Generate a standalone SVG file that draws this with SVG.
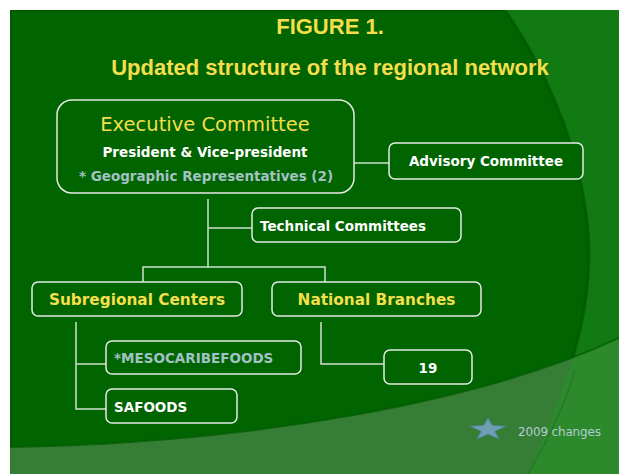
<svg xmlns="http://www.w3.org/2000/svg" width="619" height="474" viewBox="0 0 619 474">
  <defs>
    <path id="darkShape" d="M10,10 H505 C540,60 580,140 588,230 C594,300 575,370 528,474 H10 Z"/>
    <path id="lowerBand" d="M10,447 C250,443 480,403 619,338 V474 H10 Z"/>
    <clipPath id="clipDark"><use href="#darkShape"/></clipPath>
    <clipPath id="clipPage"><rect x="10" y="10" width="609" height="464"/></clipPath>
    <style>
      .box { fill: #006400; stroke: #e4ece4; stroke-width: 1.5; }
      .wire { fill: none; stroke: #cfe0cf; stroke-width: 1.5; }
      .title { font-family: "Liberation Sans", Arial, sans-serif; font-weight: bold; fill: #f4de4c; text-anchor: middle; }
      .lbl { font-family: "DejaVu Sans", Verdana, sans-serif; font-weight: bold; font-size: 13.5px; fill: #ffffff; }
      .yel { font-family: "DejaVu Sans", Verdana, sans-serif; font-weight: bold; font-size: 15.3px; fill: #f4de4c; text-anchor: middle; }
      .blue { fill: #a3c2c3; }
      .mid { text-anchor: middle; }
    </style>
  </defs>

  <!-- background -->
  <rect x="0" y="0" width="619" height="474" fill="#ffffff"/>
  <g clip-path="url(#clipPage)">
    <rect x="10" y="10" width="609" height="464" fill="#127a12"/>
    <use href="#darkShape" fill="#006400"/>
    <use href="#darkShape" fill="none" stroke="#005400" stroke-width="3" opacity="0.6"/>
    <use href="#lowerBand" fill="#2c8a2c"/>
    <use href="#lowerBand" fill="#367d36" clip-path="url(#clipDark)"/>
    <path d="M10,447 C250,443 480,403 619,338" fill="none" stroke="#005a00" stroke-width="2" opacity="0.7"/>
    <path d="M575,370 C565,405 548,440 528,474" fill="none" stroke="#2a6f2a" stroke-width="1.5" opacity="0.7"/>
  </g>

  <!-- titles -->
  <text class="title" x="330" y="34" font-size="22">FIGURE 1.</text>
  <text class="title" x="330" y="75" font-size="22">Updated structure of the regional network</text>

  <!-- connectors -->
  <g id="connectors">
    <line class="wire" x1="354" y1="163" x2="389" y2="163"/>
    <line class="wire" x1="208" y1="199" x2="208" y2="267"/>
    <line class="wire" x1="208" y1="228" x2="252" y2="228"/>
    <polyline class="wire" points="143,282 143,267 325,267 325,282"/>
    <polyline class="wire" points="76,322 76,409 106,409"/>
    <line class="wire" x1="76" y1="364" x2="106" y2="364"/>
    <polyline class="wire" points="321,322 321,364 384,364"/>
  </g>

  <!-- nodes -->
  <g id="executive-committee">
    <rect class="box" x="57" y="100" width="297" height="93" rx="15"/>
    <text x="205" y="131" font-family="DejaVu Sans, Verdana, sans-serif" font-size="19.5" fill="#f4de4c" text-anchor="middle">Executive Committee</text>
    <text class="lbl mid" x="205" y="157" font-size="13">President &amp; Vice-president</text>
    <text class="lbl mid blue" x="206" y="181" font-size="13">* Geographic Representatives (2)</text>
  </g>

  <g id="advisory-committee">
    <rect class="box" x="389" y="143" width="194" height="36" rx="6"/>
    <text class="lbl mid" x="486" y="166">Advisory Committee</text>
  </g>

  <g id="technical-committees">
    <rect class="box" x="252" y="208" width="209" height="34" rx="6"/>
    <text class="lbl" x="260" y="231">Technical Committees</text>
  </g>

  <g id="subregional-centers">
    <rect class="box" x="32" y="282" width="210" height="34" rx="6"/>
    <text class="yel" x="137" y="305">Subregional Centers</text>
  </g>

  <g id="national-branches">
    <rect class="box" x="272" y="282" width="209" height="34" rx="6"/>
    <text class="yel" x="376.5" y="305">National Branches</text>
  </g>

  <g id="mesocaribefoods">
    <rect class="box" x="106" y="341" width="195" height="33" rx="6"/>
    <text class="lbl blue" x="114" y="363" font-size="13">*MESOCARIBEFOODS</text>
  </g>

  <g id="safoods">
    <rect class="box" x="106" y="389" width="131" height="34" rx="6"/>
    <text class="lbl" x="114" y="412">SAFOODS</text>
  </g>

  <g id="branches-count">
    <rect class="box" x="384" y="350" width="88" height="34" rx="6"/>
    <text class="lbl mid" x="428" y="373" font-size="14">19</text>
  </g>

  <!-- legend -->
  <g id="legend">
    <polygon points="488,418 492.2,425.3 506,426.2 494.8,431.2 499.1,439 488,434.3 476.9,439 481.2,431.2 470,426.2 483.8,425.3" fill="#6c9fb2" stroke="#4f7f96" stroke-width="0.8"/>
    <text x="518" y="436" font-family="DejaVu Sans, Verdana, sans-serif" font-size="12" fill="#b3cbd3" textLength="83">2009 changes</text>
  </g>
</svg>
